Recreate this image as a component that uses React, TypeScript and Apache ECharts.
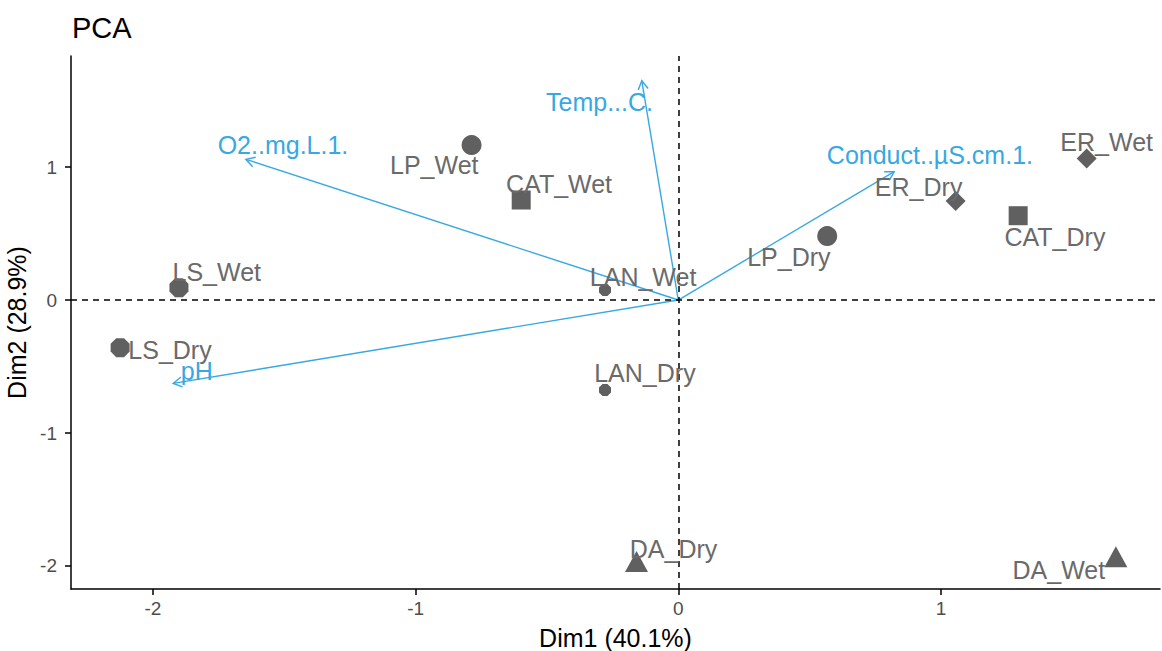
import React, { useEffect, useRef } from "react";
import * as echarts from "echarts";

// Individuals (sites) coordinates on Dim1 / Dim2
const sites = ["LP_Wet", "CAT_Wet", "LS_Wet", "LS_Dry", "LAN_Wet", "LAN_Dry", "LP_Dry", "ER_Dry", "CAT_Dry", "ER_Wet", "DA_Dry", "DA_Wet"];
const siteGroup = ["LP", "CAT", "LS", "LS", "LAN", "LAN", "LP", "ER", "CAT", "ER", "DA", "DA"];
const siteDim1 = [-0.787, -0.598, -1.901, -2.125, -0.279, -0.279, 0.567, 1.056, 1.294, 1.555, -0.159, 1.666];
const siteDim2 = [1.165, 0.752, 0.093, -0.358, 0.075, -0.677, 0.481, 0.744, 0.634, 1.065, -1.966, -1.93];
// repelled label positions (data units)
const siteLabelDim1 = [-0.929, -0.454, -1.757, -1.935, -0.134, -0.127, 0.421, 0.915, 1.434, 1.631, -0.018, 1.449];
const siteLabelDim2 = [1.015, 0.869, 0.208, -0.376, 0.175, -0.552, 0.323, 0.852, 0.476, 1.19, -1.872, -2.03];

// Variables (arrows)
const variables = ["O2..mg.L.1.", "Temp...C.", "Conduct..µS.cm.1.", "pH"];
const varDim1 = [-1.646, -0.139, 0.822, -1.923];
const varDim2 = [1.058, 1.649, 0.965, -0.627];
const varLabelDim1 = [-1.505, -0.3, 0.958, -1.833];
const varLabelDim2 = [1.168, 1.486, 1.09, -0.532];

const groups = ["LP", "CAT", "ER", "LS", "LAN", "DA"];
const groupSymbols = ["circle", "rect", "diamond",
  "path://M-0.383,-0.924 L0.383,-0.924 L0.924,-0.383 L0.924,0.383 L0.383,0.924 L-0.383,0.924 L-0.924,0.383 L-0.924,-0.383 Z",
  "path://M-0.383,-0.924 L0.383,-0.924 L0.924,-0.383 L0.924,0.383 L0.383,0.924 L-0.383,0.924 L-0.924,0.383 L-0.924,-0.383 Z",
  "triangle"];
const groupSizes = [20, 19, 20, 19, 12, [23, 21]];

const xTicks = [-2, -1, 0, 1];
const yTicks = [-2, -1, 0, 1];

const FONT = "'Liberation Sans', Arial, sans-serif";
const POINT_COLOR = "#606060";
const LABEL_COLOR = "#6a6a6a";
const ARROW_COLOR = "#38a8e2";

export default function App() {
  const ref = useRef<HTMLDivElement>(null);
  useEffect(() => {
    if (!ref.current) return;
    const chart = echarts.init(ref.current, null, { renderer: "svg" });

    const pointSeries = groups.map((g, gi) => ({
      type: "scatter",
      name: g,
      symbol: groupSymbols[gi],
      symbolSize: groupSizes[gi],
      itemStyle: { color: POINT_COLOR, opacity: 1 },
      z: 3,
      data: sites
        .map((s, i) => ({ i, s }))
        .filter((d) => siteGroup[d.i] === g)
        .map((d) => ({ name: d.s, value: [siteDim1[d.i], siteDim2[d.i]] })),
    }));

    const option: any = {
      animation: false,
      graphic: [
        {
          type: "text",
          x: 72,
          y: 28,
          style: { text: "PCA", fill: "#000", fontSize: 29, fontFamily: FONT, align: "left", verticalAlign: "middle" },
        },
      ],
      grid: { left: 71, right: 2, top: 56, bottom: 62, containLabel: false, outerBoundsMode: "none" },
      xAxis: {
        type: "value",
        min: -2.312,
        max: 1.834,
        name: "Dim1 (40.1%)",
        nameLocation: "middle",
        nameGap: 36,
        nameTextStyle: { color: "#000", fontSize: 25, fontFamily: FONT },
        axisLine: { onZero: false, lineStyle: { color: "#000", width: 1.5 } },
        axisTick: { show: true, length: 6, customValues: xTicks, lineStyle: { color: "#000", width: 1.5 } },
        axisLabel: { customValues: xTicks, color: "#4d4d4d", fontSize: 19, fontFamily: FONT, margin: 10 },
        splitLine: { show: false },
      },
      yAxis: {
        type: "value",
        min: -2.173,
        max: 1.835,
        name: "Dim2 (28.9%)",
        nameLocation: "middle",
        nameGap: 37,
        nameTextStyle: { color: "#000", fontSize: 25, fontFamily: FONT },
        axisLine: { onZero: false, lineStyle: { color: "#000", width: 1.5 } },
        axisTick: { show: true, length: 6, customValues: yTicks, lineStyle: { color: "#000", width: 1.5 } },
        axisLabel: { customValues: yTicks, color: "#4d4d4d", fontSize: 19, fontFamily: FONT, margin: 14 },
        splitLine: { show: false },
      },
      series: [
        {
          type: "scatter",
          name: "ref",
          data: [],
          silent: true,
          z: 1,
          markLine: {
            silent: true,
            symbol: "none",
            label: { show: false },
            lineStyle: { color: "#000", width: 1.5, type: [6, 5] },
            data: [{ xAxis: 0 }, { yAxis: 0 }],
          },
        },
        ...pointSeries,
        {
          type: "custom",
          name: "variables",
          z: 4,
          silent: true,
          data: variables.map((v, i) => [varDim1[i], varDim2[i]]),
          renderItem: (params: any, api: any) => {
            const o = api.coord([0, 0]);
            const e = api.coord([api.value(0), api.value(1)]);
            const ang = Math.atan2(e[1] - o[1], e[0] - o[0]);
            const L = 10;
            const a1 = ang + Math.PI - Math.PI / 6;
            const a2 = ang + Math.PI + Math.PI / 6;
            return {
              type: "group",
              children: [
                {
                  type: "line",
                  shape: { x1: o[0], y1: o[1], x2: e[0], y2: e[1] },
                  style: { stroke: ARROW_COLOR, lineWidth: 1.4 },
                },
                {
                  type: "polyline",
                  shape: {
                    points: [
                      [e[0] + L * Math.cos(a1), e[1] + L * Math.sin(a1)],
                      [e[0], e[1]],
                      [e[0] + L * Math.cos(a2), e[1] + L * Math.sin(a2)],
                    ],
                  },
                  style: { stroke: ARROW_COLOR, lineWidth: 1.4, fill: "none" },
                },
              ],
            };
          },
        },
        {
          type: "custom",
          name: "variableLabels",
          z: 5,
          silent: true,
          data: variables.map((v, i) => [varLabelDim1[i], varLabelDim2[i]]),
          renderItem: (params: any, api: any) => {
            const p = api.coord([api.value(0), api.value(1)]);
            return {
              type: "text",
              x: p[0],
              y: p[1],
              style: {
                text: variables[params.dataIndex],
                fill: ARROW_COLOR,
                fontSize: 25,
                fontFamily: FONT,
                align: "center",
                verticalAlign: "middle",
              },
            };
          },
        },
        {
          type: "custom",
          name: "siteLabels",
          z: 5,
          silent: true,
          data: sites.map((s, i) => [siteLabelDim1[i], siteLabelDim2[i]]),
          renderItem: (params: any, api: any) => {
            const p = api.coord([api.value(0), api.value(1)]);
            return {
              type: "text",
              x: p[0],
              y: p[1],
              style: {
                text: sites[params.dataIndex],
                fill: LABEL_COLOR,
                fontSize: 25,
                fontFamily: FONT,
                align: "center",
                verticalAlign: "middle",
              },
            };
          },
        },
      ],
    };
    chart.setOption(option);
    return () => chart.dispose();
  }, []);
  return (
    <div
      ref={ref}
      style={{ position: "absolute", left: 0, top: 0, width: 1162, height: 651, background: "#fff" }}
    />
  );
}
